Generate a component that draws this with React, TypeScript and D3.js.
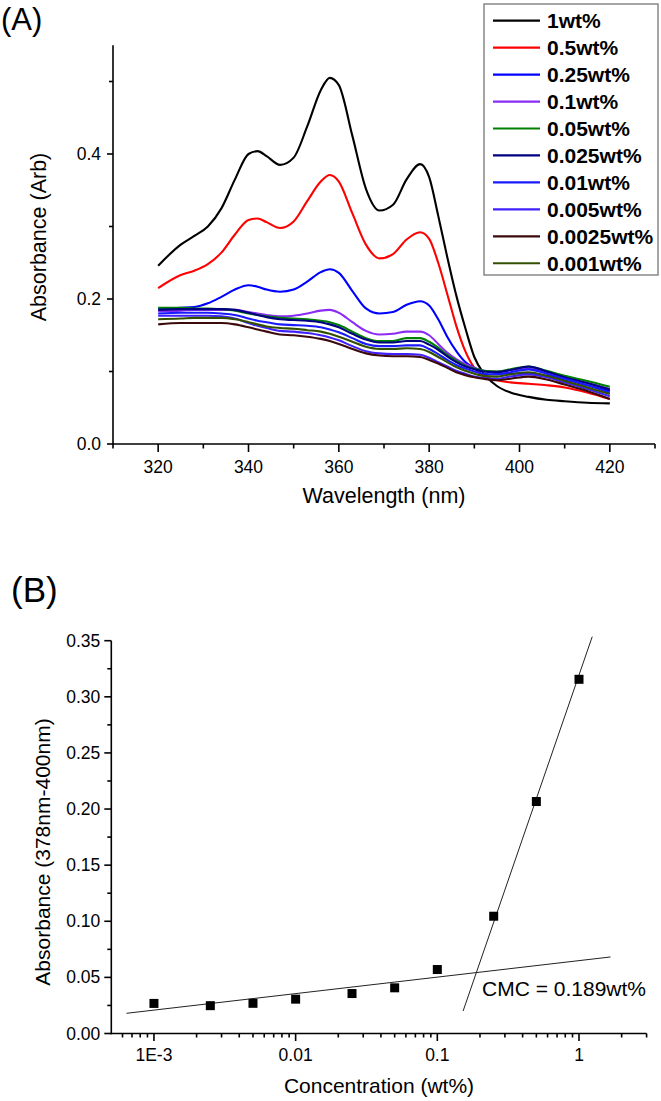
import React from 'react';
import * as d3 from 'd3';

// ---------- Panel A data ----------
const wavelengths = [320, 325, 328, 331, 334, 337, 340, 342, 344, 347, 350, 353, 356, 358, 360, 363, 366, 369, 372, 375, 378, 380, 382, 384, 386, 388, 390, 392, 395, 398, 402, 406, 410, 415, 420];

const abs1 = [0.246, 0.275, 0.287, 0.300, 0.325, 0.365, 0.400, 0.404, 0.397, 0.385, 0.395, 0.438, 0.488, 0.505, 0.495, 0.425, 0.352, 0.322, 0.330, 0.365, 0.386, 0.368, 0.315, 0.258, 0.205, 0.160, 0.120, 0.098, 0.080, 0.071, 0.065, 0.061, 0.059, 0.057, 0.056];
const abs05 = [0.215, 0.233, 0.239, 0.248, 0.264, 0.289, 0.309, 0.311, 0.306, 0.298, 0.307, 0.335, 0.362, 0.371, 0.362, 0.318, 0.275, 0.256, 0.262, 0.282, 0.292, 0.283, 0.250, 0.207, 0.163, 0.128, 0.105, 0.094, 0.088, 0.085, 0.083, 0.081, 0.078, 0.071, 0.062];
const abs025 = [0.187, 0.188, 0.189, 0.194, 0.203, 0.213, 0.219, 0.217, 0.213, 0.210, 0.213, 0.224, 0.237, 0.241, 0.236, 0.211, 0.187, 0.180, 0.182, 0.192, 0.197, 0.191, 0.172, 0.148, 0.128, 0.113, 0.105, 0.101, 0.098, 0.097, 0.098, 0.094, 0.089, 0.081, 0.073];
const abs01 = [0.183, 0.184, 0.185, 0.185, 0.185, 0.185, 0.182, 0.180, 0.178, 0.176, 0.177, 0.180, 0.184, 0.185, 0.181, 0.168, 0.156, 0.151, 0.152, 0.155, 0.155, 0.150, 0.138, 0.126, 0.117, 0.110, 0.105, 0.101, 0.100, 0.102, 0.105, 0.099, 0.091, 0.084, 0.076];
const abs005 = [0.188, 0.188, 0.187, 0.187, 0.186, 0.184, 0.180, 0.178, 0.176, 0.174, 0.173, 0.172, 0.170, 0.168, 0.164, 0.155, 0.146, 0.142, 0.142, 0.146, 0.146, 0.141, 0.133, 0.123, 0.115, 0.108, 0.104, 0.101, 0.100, 0.103, 0.107, 0.101, 0.094, 0.087, 0.079];
const abs0025 = [0.185, 0.186, 0.186, 0.186, 0.186, 0.185, 0.181, 0.178, 0.175, 0.172, 0.171, 0.170, 0.168, 0.165, 0.161, 0.152, 0.144, 0.140, 0.140, 0.142, 0.142, 0.137, 0.130, 0.121, 0.113, 0.107, 0.103, 0.100, 0.099, 0.102, 0.107, 0.100, 0.092, 0.084, 0.075];
const abs001 = [0.180, 0.181, 0.181, 0.181, 0.180, 0.178, 0.173, 0.170, 0.168, 0.165, 0.164, 0.163, 0.161, 0.158, 0.154, 0.146, 0.138, 0.135, 0.135, 0.136, 0.136, 0.131, 0.124, 0.116, 0.109, 0.104, 0.100, 0.097, 0.096, 0.099, 0.103, 0.097, 0.090, 0.081, 0.071];
const abs0005 = [0.177, 0.177, 0.177, 0.177, 0.176, 0.173, 0.167, 0.163, 0.160, 0.156, 0.155, 0.153, 0.150, 0.147, 0.143, 0.135, 0.128, 0.125, 0.124, 0.124, 0.123, 0.119, 0.113, 0.107, 0.101, 0.097, 0.093, 0.091, 0.090, 0.093, 0.096, 0.092, 0.085, 0.076, 0.066];
const abs00025 = [0.165, 0.167, 0.167, 0.167, 0.167, 0.165, 0.161, 0.158, 0.155, 0.151, 0.150, 0.148, 0.145, 0.142, 0.138, 0.131, 0.125, 0.122, 0.121, 0.121, 0.120, 0.116, 0.111, 0.105, 0.099, 0.095, 0.092, 0.090, 0.088, 0.090, 0.093, 0.089, 0.082, 0.073, 0.062];
const abs0001 = [0.172, 0.173, 0.174, 0.174, 0.174, 0.172, 0.168, 0.165, 0.162, 0.160, 0.159, 0.157, 0.155, 0.152, 0.148, 0.141, 0.134, 0.131, 0.131, 0.132, 0.131, 0.127, 0.120, 0.113, 0.106, 0.101, 0.097, 0.094, 0.093, 0.096, 0.099, 0.094, 0.087, 0.078, 0.069];

const seriesLabels = ['1wt%', '0.5wt%', '0.25wt%', '0.1wt%', '0.05wt%', '0.025wt%', '0.01wt%', '0.005wt%', '0.0025wt%', '0.001wt%'];
const seriesValues = [abs1, abs05, abs025, abs01, abs005, abs0025, abs001, abs0005, abs00025, abs0001];
const seriesColors = ['#000000', '#ff0000', '#0000ff', '#8b2cf5', '#008000', '#000080', '#1a1aff', '#4020ff', '#3c0a0a', '#335000'];

const xTicksA = [320, 340, 360, 380, 400, 420];
const xMinorA = [310, 330, 350, 370, 390, 410, 430];
const yTicksA = [0, 0.2, 0.4];
const yTickLabelsA = ['0.0', '0.2', '0.4'];
const yMinorA = [0.1, 0.3, 0.5];

// ---------- Panel B data ----------
const concB = [0.001, 0.0025, 0.005, 0.01, 0.025, 0.05, 0.1, 0.25, 0.5, 1];
const absB = [0.0268, 0.0248, 0.0269, 0.0306, 0.0356, 0.0407, 0.0570, 0.1045, 0.2067, 0.3156];
const lowFitX = [0.00064, 1.67];
const lowFitY = [0.018, 0.0682];
const highFitX = [0.152, 1.24];
const highFitY = [0.020, 0.3536];
const cmcLabel = 'CMC = 0.189wt%';

const xTicksB = [0.001, 0.01, 0.1, 1];
const xTickLabelsB = ['1E-3', '0.01', '0.1', '1'];
const xMinorB = [0.0006, 0.0007, 0.0008, 0.0009, 0.002, 0.003, 0.004, 0.005, 0.006, 0.007, 0.008, 0.009, 0.02, 0.03, 0.04, 0.05, 0.06, 0.07, 0.08, 0.09, 0.2, 0.3, 0.4, 0.5, 0.6, 0.7, 0.8, 0.9, 2, 3];
const yTicksB = [0, 0.05, 0.1, 0.15, 0.2, 0.25, 0.3, 0.35];
const yTickLabelsB = ['0.00', '0.05', '0.10', '0.15', '0.20', '0.25', '0.30', '0.35'];
const yMinorB = [0.025, 0.075, 0.125, 0.175, 0.225, 0.275, 0.325];

const FONT = '"Liberation Sans", Arial, Helvetica, sans-serif';

export default function App() {
  const xA = d3.scaleLinear().domain([310, 430]).range([113, 655]);
  const yA = d3.scaleLinear().domain([0, 0.55]).range([444, 45.25]);
  const lineA = d3
    .line<[number, number]>()
    .x((d) => xA(d[0]))
    .y((d) => yA(d[1]))
    .curve(d3.curveMonotoneX);

  const xB = d3.scaleLog().domain([0.0005, 3]).range([111.3, 646.6]);
  const yB = d3.scaleLinear().domain([0, 0.35]).range([1033.5, 640.7]);

  const legendRowY = (i: number) => 20.7 + i * 26.95;

  return (
    <div style={{ position: 'absolute', left: 0, top: 0 }}>
      <svg width={661} height={1101} style={{ display: 'block', background: '#fff' }} fontFamily={FONT}>
        <rect x={0} y={0} width={661} height={1101} fill="#fff" />
        {/* ===== Panel A ===== */}
        <text x={1} y={30} fontSize={31} fill="#000">(A)</text>
        {/* curves */}
        <g fill="none" strokeWidth={2.1} strokeLinejoin="round">
          {seriesValues.map((vals, si) => (
            <path
              key={si}
              d={lineA(wavelengths.map((w, i) => [w, vals[i]] as [number, number])) || ''}
              stroke={seriesColors[si]}
            />
          ))}
        </g>
        {/* axes */}
        <g stroke="#000" strokeWidth={1.6}>
          <line x1={xA(310)} x2={xA(310)} y1={yA(0.55)} y2={yA(0) + 0.8} />
          <line x1={xA(310) - 0.8} x2={xA(430)} y1={yA(0)} y2={yA(0)} />
          {xTicksA.map((t) => (
            <line key={'xa' + t} x1={xA(t)} x2={xA(t)} y1={yA(0)} y2={yA(0) + 8} />
          ))}
          {xMinorA.map((t) => (
            <line key={'xam' + t} x1={xA(t)} x2={xA(t)} y1={yA(0)} y2={yA(0) + 4.5} />
          ))}
          {yTicksA.map((t) => (
            <line key={'ya' + t} x1={xA(310)} x2={xA(310) - 6} y1={yA(t)} y2={yA(t)} />
          ))}
          {yMinorA.map((t) => (
            <line key={'yam' + t} x1={xA(310)} x2={xA(310) - 4} y1={yA(t)} y2={yA(t)} />
          ))}
        </g>
        <g fontSize={17.5} fill="#000">
          {xTicksA.map((t) => (
            <text key={'xal' + t} x={xA(t)} y={yA(0) + 28.5} textAnchor="middle">{t}</text>
          ))}
          {yTicksA.map((t, i) => (
            <text key={'yal' + t} x={xA(310) - 12} y={yA(t) + 6} textAnchor="end">{yTickLabelsA[i]}</text>
          ))}
        </g>
        <text x={384} y={503} fontSize={21.5} textAnchor="middle" fill="#000">Wavelength (nm)</text>
        <text transform="translate(46,237) rotate(-90)" fontSize={21.5} textAnchor="middle" fill="#000">Absorbance (Arb)</text>
        {/* legend */}
        <rect x={484} y={4} width={174} height={271} fill="#fff" stroke="#888" strokeWidth={1.5} />
        {seriesLabels.map((lab, i) => (
          <g key={'lg' + i}>
            <line x1={493} x2={540} y1={legendRowY(i)} y2={legendRowY(i)} stroke={seriesColors[i]} strokeWidth={2.2} />
            <text x={547} y={legendRowY(i) + 7.6} fontSize={21} fontWeight="bold" fill="#000">{lab}</text>
          </g>
        ))}

        {/* ===== Panel B ===== */}
        <text x={11} y={602} fontSize={35} fill="#000">(B)</text>
        <g stroke="#222" strokeWidth={1}>
          <line x1={xB(lowFitX[0])} y1={yB(lowFitY[0])} x2={xB(lowFitX[1])} y2={yB(lowFitY[1])} />
          <line x1={xB(highFitX[0])} y1={yB(highFitY[0])} x2={xB(highFitX[1])} y2={yB(highFitY[1])} />
        </g>
        <g fill="#000">
          {concB.map((c, i) => (
            <rect key={'pt' + i} x={xB(c) - 4.5} y={yB(absB[i]) - 4.5} width={9} height={9} />
          ))}
        </g>
        <text x={482} y={996} fontSize={21} fill="#000">{cmcLabel}</text>
        <g stroke="#000" strokeWidth={1.6}>
          <line x1={xB(0.0005)} x2={xB(0.0005)} y1={yB(0.35)} y2={yB(0) + 0.8} />
          <line x1={xB(0.0005) - 0.8} x2={xB(3)} y1={yB(0)} y2={yB(0)} />
          {xTicksB.map((t) => (
            <line key={'xb' + t} x1={xB(t)} x2={xB(t)} y1={yB(0)} y2={yB(0) + 7.5} />
          ))}
          {xMinorB.map((t) => (
            <line key={'xbm' + t} x1={xB(t)} x2={xB(t)} y1={yB(0)} y2={yB(0) + 4} />
          ))}
          {yTicksB.map((t) => (
            <line key={'yb' + t} x1={xB(0.0005)} x2={xB(0.0005) - 7} y1={yB(t)} y2={yB(t)} />
          ))}
          {yMinorB.map((t) => (
            <line key={'ybm' + t} x1={xB(0.0005)} x2={xB(0.0005) - 4} y1={yB(t)} y2={yB(t)} />
          ))}
        </g>
        <g fontSize={17.5} fill="#000">
          {xTicksB.map((t, i) => (
            <text key={'xbl' + t} x={xB(t)} y={yB(0) + 27} textAnchor="middle">{xTickLabelsB[i]}</text>
          ))}
          {yTicksB.map((t, i) => (
            <text key={'ybl' + t} x={xB(0.0005) - 11} y={yB(t) + 6} textAnchor="end">{yTickLabelsB[i]}</text>
          ))}
        </g>
        <text x={379} y={1093} fontSize={21} textAnchor="middle" fill="#000">Concentration (wt%)</text>
        <text transform="translate(50,852) rotate(-90)" fontSize={21} textAnchor="middle" fill="#000">Absorbance (378nm-400nm)</text>
      </svg>
    </div>
  );
}
